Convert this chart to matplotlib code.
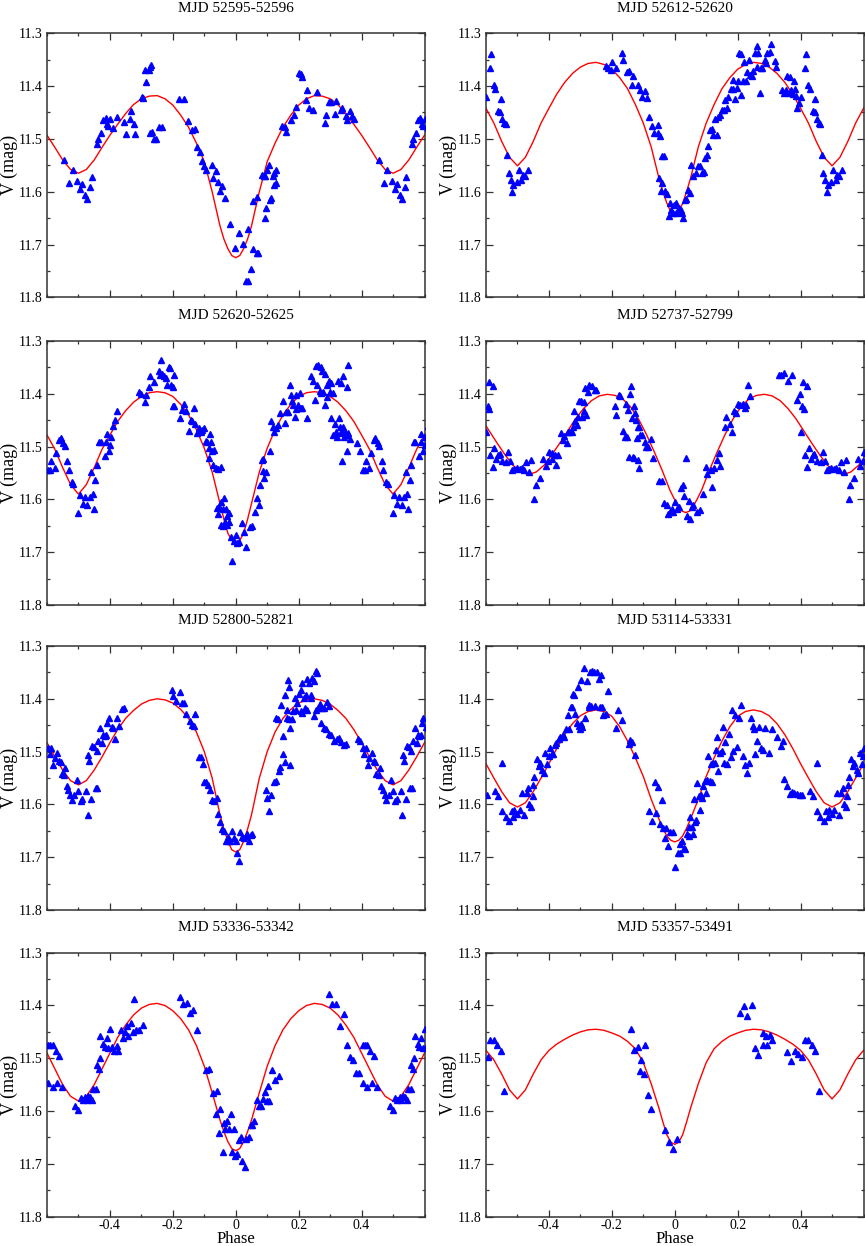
import numpy as np
import matplotlib
matplotlib.use('Agg')
import matplotlib.pyplot as plt
from matplotlib.ticker import MultipleLocator, FixedLocator, FuncFormatter

plt.rcParams['font.family'] = ['Liberation Serif', 'DejaVu Serif']

TITLES = ['MJD 52595-52596', 'MJD 52612-52620', 'MJD 52620-52625', 'MJD 52737-52799',
          'MJD 52800-52821', 'MJD 53114-53331', 'MJD 53336-53342', 'MJD 53357-53491']

# model light curve, half period: distance from primary minimum -> V mag
CURVE_D = [0.0, 0.0125, 0.025, 0.0375, 0.05, 0.075, 0.1, 0.125, 0.15, 0.175, 0.2, 0.225, 0.25,
           0.275, 0.3, 0.325, 0.35, 0.375, 0.4, 0.425, 0.45, 0.475, 0.5]
CURVE_1 = [11.725, 11.721, 11.708, 11.690, 11.665, 11.600, 11.543, 11.508, 11.478, 11.455, 11.436, 11.424, 11.418,
           11.419, 11.424, 11.435, 11.452, 11.472, 11.493, 11.516, 11.540, 11.558, 11.565]
CURVE_2 = [11.643, 11.638, 11.622, 11.600, 11.575, 11.515, 11.470, 11.435, 11.405, 11.384, 11.368, 11.359, 11.355,
           11.357, 11.364, 11.376, 11.393, 11.415, 11.442, 11.470, 11.505, 11.535, 11.551]
CURVE_3 = [11.682, 11.678, 11.664, 11.638, 11.608, 11.548, 11.503, 11.468, 11.440, 11.420, 11.405, 11.398, 11.396,
           11.398, 11.405, 11.416, 11.432, 11.452, 11.478, 11.505, 11.540, 11.572, 11.590]
CURVE_4 = [11.625, 11.622, 11.612, 11.598, 11.583, 11.545, 11.510, 11.477, 11.448, 11.425, 11.410, 11.403, 11.401,
           11.404, 11.413, 11.428, 11.447, 11.470, 11.493, 11.515, 11.535, 11.548, 11.553]
CURVE_5 = [11.690, 11.686, 11.670, 11.647, 11.620, 11.550, 11.500, 11.463, 11.437, 11.420, 11.408, 11.402, 11.400,
           11.403, 11.410, 11.422, 11.437, 11.458, 11.483, 11.510, 11.535, 11.555, 11.563]
CURVE_6 = [11.671, 11.668, 11.660, 11.645, 11.628, 11.590, 11.547, 11.512, 11.480, 11.453, 11.433, 11.424, 11.421,
           11.424, 11.432, 11.447, 11.468, 11.494, 11.523, 11.550, 11.576, 11.597, 11.605]
CURVE_7 = [11.675, 11.671, 11.658, 11.639, 11.617, 11.565, 11.515, 11.476, 11.446, 11.425, 11.410, 11.400, 11.396,
           11.398, 11.405, 11.418, 11.437, 11.460, 11.490, 11.520, 11.550, 11.572, 11.581]
CURVE_8 = [11.663, 11.659, 11.645, 11.621, 11.595, 11.548, 11.508, 11.482, 11.468, 11.458, 11.452, 11.447, 11.445,
           11.446, 11.450, 11.456, 11.464, 11.473, 11.485, 11.503, 11.530, 11.560, 11.577]
# phase of the primary minimum in each panel
CURVE_SHIFT = [0.0, 0.0, 0.0, 0.035, 0.0, 0.0, 0.0, 0.0]

# observations (phase, V), one cycle; drawn again one phase unit later
OBS_1 = [(-0.545, 11.540), (-0.530, 11.583), (-0.518, 11.559), (-0.504, 11.580), (-0.494, 11.594),
         (-0.489, 11.585), (-0.478, 11.606), (-0.473, 11.613), (-0.462, 11.591), (-0.458, 11.572),
         (-0.441, 11.510), (-0.437, 11.500), (-0.427, 11.489), (-0.422, 11.465), (-0.414, 11.461),
         (-0.409, 11.471), (-0.405, 11.475), (-0.399, 11.462), (-0.390, 11.480), (-0.378, 11.458),
         (-0.354, 11.468), (-0.349, 11.491), (-0.337, 11.462), (-0.334, 11.447), (-0.322, 11.472),
         (-0.319, 11.490), (-0.299, 11.420), (-0.295, 11.423), (-0.289, 11.369), (-0.284, 11.393),
         (-0.277, 11.369), (-0.271, 11.363), (-0.268, 11.360), (-0.274, 11.488), (-0.266, 11.486),
         (-0.259, 11.500), (-0.254, 11.500), (-0.243, 11.478), (-0.235, 11.478), (-0.181, 11.425),
         (-0.166, 11.425), (-0.153, 11.466), (-0.140, 11.484), (-0.129, 11.482), (-0.123, 11.515),
         (-0.113, 11.524), (-0.108, 11.542), (-0.100, 11.552), (-0.093, 11.559), (-0.076, 11.549),
         (-0.073, 11.574), (-0.062, 11.561), (-0.057, 11.581), (-0.049, 11.598), (-0.043, 11.590),
         (-0.035, 11.612), (-0.017, 11.661), (-0.003, 11.706), (0.011, 11.679), (0.024, 11.699),
         (0.034, 11.769), (0.039, 11.769), (0.040, 11.671), (0.050, 11.746), (0.054, 11.618),
         (0.055, 11.709), (0.066, 11.717), (0.070, 11.717), (0.067, 11.610), (0.082, 11.569),
         (0.089, 11.571), (0.093, 11.571), (0.092, 11.650), (0.096, 11.631), (0.100, 11.559),
         (0.105, 11.550), (0.108, 11.616), (0.112, 11.612), (0.117, 11.571), (0.121, 11.564),
         (0.123, 11.588), (0.127, 11.559), (0.127, 11.583), (0.147, 11.476), (0.158, 11.478),
         (0.161, 11.486), (0.175, 11.465), (0.186, 11.455), (0.190, 11.439), (0.200, 11.376),
         (0.206, 11.378), (0.211, 11.382), (0.223, 11.426), (0.227, 11.408), (0.232, 11.441),
         (0.245, 11.446), (0.259, 11.411), (0.283, 11.470), (0.287, 11.455), (0.296, 11.430),
         (0.303, 11.430), (0.314, 11.452), (0.318, 11.428), (0.333, 11.445), (0.339, 11.442),
         (0.349, 11.456), (0.353, 11.465), (0.364, 11.447), (0.368, 11.456), (0.377, 11.463)]

OBS_2 = [(-0.599, 11.420), (-0.587, 11.365), (-0.583, 11.340), (-0.575, 11.398), (-0.570, 11.406),
         (-0.561, 11.448), (-0.555, 11.449), (-0.553, 11.425), (-0.548, 11.462), (-0.542, 11.469),
         (-0.537, 11.471), (-0.532, 11.531), (-0.528, 11.565), (-0.521, 11.577), (-0.517, 11.601),
         (-0.513, 11.587), (-0.502, 11.581), (-0.496, 11.558), (-0.489, 11.577), (-0.483, 11.568),
         (-0.477, 11.570), (-0.468, 11.559),
         (-0.220, 11.362), (-0.212, 11.366), (-0.204, 11.370), (-0.200, 11.355), (-0.188, 11.366),
         (-0.167, 11.338), (-0.163, 11.350), (-0.151, 11.374), (-0.146, 11.372), (-0.137, 11.398),
         (-0.132, 11.381), (-0.118, 11.397), (-0.111, 11.407), (-0.103, 11.420), (-0.095, 11.410),
         (-0.087, 11.423), (-0.082, 11.459), (-0.072, 11.476), (-0.067, 11.488), (-0.054, 11.473),
         (-0.052, 11.489), (-0.047, 11.494), (-0.040, 11.533), (-0.035, 11.532), (-0.051, 11.575),
         (-0.040, 11.583), (-0.044, 11.598), (-0.032, 11.598), (-0.025, 11.605), (-0.019, 11.646),
         (-0.015, 11.622), (-0.011, 11.635), (-0.006, 11.640), (-0.002, 11.626), (0.003, 11.622),
         (0.005, 11.641), (0.011, 11.639), (0.015, 11.631), (0.019, 11.634), (0.023, 11.640),
         (0.026, 11.650), (0.032, 11.615), (0.036, 11.614), (0.042, 11.596), (0.048, 11.602),
         (0.051, 11.550), (0.059, 11.571), (0.066, 11.564), (0.074, 11.551), (0.081, 11.551),
         (0.087, 11.564), (0.093, 11.562), (0.097, 11.536), (0.102, 11.530), (0.106, 11.514),
         (0.112, 11.483), (0.117, 11.481), (0.122, 11.492), (0.128, 11.462), (0.133, 11.492),
         (0.138, 11.459), (0.144, 11.454), (0.150, 11.446), (0.155, 11.446), (0.159, 11.426),
         (0.165, 11.442), (0.169, 11.420), (0.178, 11.406), (0.186, 11.406), (0.184, 11.388),
         (0.193, 11.425), (0.197, 11.404), (0.201, 11.391), (0.203, 11.338), (0.210, 11.339),
         (0.212, 11.417), (0.216, 11.391), (0.219, 11.354), (0.225, 11.390), (0.231, 11.374),
         (0.235, 11.350), (0.238, 11.379), (0.244, 11.380), (0.248, 11.372), (0.254, 11.337),
         (0.260, 11.325), (0.263, 11.363), (0.265, 11.338), (0.270, 11.413), (0.273, 11.366),
         (0.278, 11.366), (0.286, 11.350), (0.291, 11.357), (0.294, 11.337), (0.303, 11.335),
         (0.307, 11.320), (0.318, 11.352), (0.323, 11.363), (0.341, 11.408), (0.347, 11.413),
         (0.354, 11.408), (0.358, 11.381), (0.362, 11.413), (0.365, 11.383), (0.371, 11.408),
         (0.376, 11.415), (0.379, 11.390), (0.381, 11.406), (0.386, 11.418), (0.390, 11.442),
         (0.394, 11.432)]

OBS_3 = [(-0.597, 11.545), (-0.590, 11.545), (-0.586, 11.527), (-0.576, 11.540), (-0.570, 11.513),
         (-0.562, 11.487), (-0.556, 11.484), (-0.549, 11.494), (-0.544, 11.498), (-0.535, 11.527),
         (-0.531, 11.545), (-0.522, 11.567), (-0.516, 11.571), (-0.501, 11.625), (-0.496, 11.592),
         (-0.487, 11.608), (-0.480, 11.595), (-0.472, 11.610), (-0.464, 11.595), (-0.459, 11.548),
         (-0.455, 11.590), (-0.451, 11.618), (-0.447, 11.564), (-0.442, 11.534), (-0.434, 11.492),
         (-0.429, 11.492), (-0.417, 11.517), (-0.412, 11.491), (-0.410, 11.477), (-0.404, 11.508),
         (-0.400, 11.497), (-0.397, 11.481), (-0.389, 11.461), (-0.384, 11.449), (-0.378, 11.432),
         (-0.309, 11.397), (-0.302, 11.400), (-0.290, 11.416), (-0.286, 11.403), (-0.277, 11.388),
         (-0.272, 11.367), (-0.259, 11.378), (-0.245, 11.356), (-0.242, 11.364), (-0.238, 11.336),
         (-0.233, 11.362), (-0.227, 11.366), (-0.223, 11.370), (-0.219, 11.383), (-0.213, 11.350),
         (-0.208, 11.351), (-0.206, 11.384), (-0.199, 11.388), (-0.195, 11.365), (-0.201, 11.424),
         (-0.197, 11.424), (-0.176, 11.446), (-0.172, 11.430), (-0.164, 11.419), (-0.157, 11.433),
         (-0.148, 11.470), (-0.142, 11.449), (-0.138, 11.452), (-0.133, 11.427), (-0.128, 11.458),
         (-0.123, 11.475), (-0.117, 11.464), (-0.112, 11.472), (-0.107, 11.468), (-0.101, 11.465),
         (-0.096, 11.489), (-0.091, 11.492), (-0.085, 11.502), (-0.082, 11.477), (-0.078, 11.492),
         (-0.075, 11.508), (-0.069, 11.506), (-0.085, 11.522), (-0.071, 11.535), (-0.064, 11.540),
         (-0.057, 11.543), (-0.048, 11.538), (-0.061, 11.616), (-0.057, 11.627), (-0.052, 11.614),
         (-0.046, 11.605), (-0.042, 11.619), (-0.037, 11.597), (-0.032, 11.619), (-0.029, 11.632),
         (-0.047, 11.649), (-0.040, 11.651), (-0.035, 11.643), (-0.027, 11.649), (-0.023, 11.625),
         (-0.020, 11.643), (-0.016, 11.672), (-0.012, 11.716), (-0.007, 11.678), (0.000, 11.668),
         (0.005, 11.682), (0.011, 11.681), (0.021, 11.644), (0.027, 11.661), (0.032, 11.691),
         (0.046, 11.653), (0.052, 11.651), (0.061, 11.624), (0.067, 11.597), (0.075, 11.611),
         (0.082, 11.526), (0.086, 11.524), (0.078, 11.572), (0.091, 11.560), (0.096, 11.548),
         (0.087, 11.547), (0.110, 11.508), (0.112, 11.452), (0.117, 11.462), (0.123, 11.472),
         (0.129, 11.464), (0.135, 11.460), (0.142, 11.437), (0.149, 11.413), (0.155, 11.456),
         (0.161, 11.435), (0.167, 11.435), (0.171, 11.384), (0.176, 11.402), (0.179, 11.414),
         (0.182, 11.421), (0.187, 11.443), (0.191, 11.403), (0.193, 11.428), (0.197, 11.421),
         (0.203, 11.398), (0.206, 11.427), (0.210, 11.427), (0.225, 11.446), (0.240, 11.367),
         (0.246, 11.376), (0.251, 11.411), (0.256, 11.348), (0.259, 11.383), (0.263, 11.346),
         (0.270, 11.350), (0.267, 11.394), (0.272, 11.398), (0.275, 11.357), (0.278, 11.397),
         (0.283, 11.363), (0.285, 11.422), (0.289, 11.407), (0.291, 11.383), (0.295, 11.375),
         (0.299, 11.397), (0.304, 11.379), (0.309, 11.398), (0.304, 11.445), (0.309, 11.478),
         (0.314, 11.458), (0.320, 11.472), (0.323, 11.481), (0.327, 11.446), (0.330, 11.462),
         (0.334, 11.475), (0.338, 11.468), (0.342, 11.462), (0.344, 11.481), (0.325, 11.375),
         (0.334, 11.379), (0.341, 11.367), (0.346, 11.472), (0.352, 11.478), (0.357, 11.475),
         (0.362, 11.486), (0.357, 11.346), (0.353, 11.388), (0.338, 11.527), (0.353, 11.508),
         (0.384, 11.494), (0.394, 11.508)]

OBS_4 = [(-0.600, 11.473), (-0.595, 11.424), (-0.589, 11.428), (-0.591, 11.378), (-0.579, 11.386),
         (-0.586, 11.516), (-0.579, 11.538), (-0.573, 11.502), (-0.568, 11.524), (-0.562, 11.516),
         (-0.556, 11.514), (-0.549, 11.527), (-0.536, 11.529), (-0.530, 11.510), (-0.523, 11.527),
         (-0.517, 11.545), (-0.510, 11.543), (-0.502, 11.540), (-0.493, 11.543), (-0.487, 11.541),
         (-0.479, 11.545), (-0.472, 11.529), (-0.463, 11.549), (-0.456, 11.526), (-0.447, 11.599),
         (-0.442, 11.573), (-0.429, 11.560), (-0.419, 11.524), (-0.410, 11.536), (-0.403, 11.527),
         (-0.399, 11.510), (-0.391, 11.513), (-0.389, 11.524), (-0.380, 11.515), (-0.376, 11.534),
         (-0.372, 11.516), (-0.361, 11.475), (-0.354, 11.487), (-0.351, 11.479), (-0.344, 11.494),
         (-0.340, 11.472), (-0.335, 11.473), (-0.327, 11.472), (-0.323, 11.462), (-0.319, 11.432),
         (-0.316, 11.451), (-0.312, 11.460), (-0.308, 11.443), (-0.303, 11.414), (-0.298, 11.414),
         (-0.294, 11.443), (-0.289, 11.416), (-0.287, 11.433), (-0.282, 11.440), (-0.284, 11.389),
         (-0.277, 11.397), (-0.271, 11.384), (-0.263, 11.386), (-0.255, 11.392), (-0.250, 11.392),
         (-0.191, 11.424), (-0.188, 11.440), (-0.178, 11.402), (-0.173, 11.404), (-0.165, 11.470),
         (-0.159, 11.481), (-0.156, 11.419), (-0.151, 11.481), (-0.148, 11.430), (-0.144, 11.519),
         (-0.141, 11.400), (-0.138, 11.386), (-0.135, 11.445), (-0.133, 11.519), (-0.129, 11.522),
         (-0.129, 11.423), (-0.126, 11.436), (-0.122, 11.450), (-0.118, 11.526), (-0.115, 11.541),
         (-0.118, 11.463), (-0.114, 11.462), (-0.120, 11.484), (-0.109, 11.478), (-0.103, 11.478),
         (-0.096, 11.491), (-0.090, 11.500), (-0.085, 11.500), (-0.074, 11.486), (-0.069, 11.521),
         (-0.050, 11.565), (-0.041, 11.565), (-0.035, 11.606), (-0.026, 11.611), (-0.021, 11.627),
         (-0.015, 11.624), (-0.010, 11.618), (-0.005, 11.624), (0.001, 11.605), (0.006, 11.619),
         (0.012, 11.615), (0.019, 11.578), (0.025, 11.573), (0.029, 11.593), (0.035, 11.521),
         (0.040, 11.632), (0.046, 11.603), (0.049, 11.637), (0.055, 11.615), (0.059, 11.610),
         (0.072, 11.623), (0.081, 11.621), (0.089, 11.589), (0.100, 11.538), (0.104, 11.551),
         (0.115, 11.545), (0.118, 11.576), (0.125, 11.541), (0.134, 11.526), (0.140, 11.513),
         (0.145, 11.536), (0.159, 11.462), (0.164, 11.443), (0.177, 11.457), (0.181, 11.473),
         (0.187, 11.433), (0.194, 11.436), (0.202, 11.419), (0.208, 11.421), (0.216, 11.419),
         (0.224, 11.426), (0.228, 11.421), (0.234, 11.383), (0.238, 11.405), (0.331, 11.364),
         (0.339, 11.364), (0.347, 11.360), (0.360, 11.375), (0.374, 11.365), (0.388, 11.411),
         (0.398, 11.400)]

OBS_5 = [(-0.596, 11.493), (-0.591, 11.504), (-0.586, 11.494), (-0.580, 11.525), (-0.575, 11.512),
         (-0.567, 11.503), (-0.562, 11.517), (-0.557, 11.520), (-0.553, 11.542), (-0.546, 11.544),
         (-0.543, 11.532), (-0.538, 11.566), (-0.532, 11.572), (-0.527, 11.582), (-0.522, 11.591),
         (-0.514, 11.583), (-0.506, 11.553), (-0.501, 11.575), (-0.493, 11.593), (-0.488, 11.589),
         (-0.476, 11.575), (-0.471, 11.621), (-0.469, 11.507), (-0.465, 11.518), (-0.460, 11.589),
         (-0.456, 11.489), (-0.450, 11.492), (-0.445, 11.568), (-0.440, 11.568), (-0.442, 11.498),
         (-0.437, 11.480), (-0.431, 11.455), (-0.425, 11.484), (-0.421, 11.468), (-0.417, 11.471),
         (-0.412, 11.468), (-0.408, 11.446), (-0.404, 11.436), (-0.394, 11.454), (-0.389, 11.455),
         (-0.384, 11.477), (-0.376, 11.437), (-0.370, 11.452), (-0.362, 11.420), (-0.355, 11.417),
         (-0.203, 11.384), (-0.198, 11.394), (-0.189, 11.404), (-0.176, 11.388), (-0.171, 11.408),
         (-0.164, 11.408), (-0.157, 11.428), (-0.147, 11.442), (-0.140, 11.449), (-0.129, 11.428),
         (-0.132, 11.451), (-0.117, 11.511), (-0.111, 11.511), (-0.104, 11.523), (-0.100, 11.558),
         (-0.094, 11.558), (-0.087, 11.563), (-0.081, 11.572), (-0.074, 11.591), (-0.068, 11.593),
         (-0.060, 11.588), (-0.055, 11.618), (-0.049, 11.634), (-0.045, 11.646), (-0.038, 11.651),
         (-0.032, 11.670), (-0.026, 11.661), (-0.021, 11.670), (-0.017, 11.669), (-0.013, 11.650),
         (-0.006, 11.663), (0.000, 11.670), (0.004, 11.692), (0.010, 11.707), (0.015, 11.653),
         (0.020, 11.661), (0.026, 11.664), (0.031, 11.659), (0.036, 11.656), (0.041, 11.670),
         (0.047, 11.658), (0.052, 11.657), (0.096, 11.572), (0.100, 11.588), (0.106, 11.613),
         (0.113, 11.583), (0.121, 11.558), (0.128, 11.556), (0.128, 11.436), (0.134, 11.439),
         (0.137, 11.537), (0.140, 11.530), (0.145, 11.412), (0.151, 11.471), (0.149, 11.504),
         (0.155, 11.520), (0.158, 11.392), (0.164, 11.422), (0.166, 11.365), (0.170, 11.378),
         (0.164, 11.437), (0.170, 11.439), (0.172, 11.526), (0.174, 11.455), (0.179, 11.439),
         (0.183, 11.423), (0.187, 11.399), (0.191, 11.422), (0.196, 11.408), (0.201, 11.391),
         (0.206, 11.384), (0.211, 11.370), (0.217, 11.399), (0.222, 11.392), (0.227, 11.363),
         (0.233, 11.370), (0.238, 11.398), (0.243, 11.360), (0.249, 11.366), (0.254, 11.347),
         (0.259, 11.351), (0.206, 11.423), (0.211, 11.427), (0.219, 11.417), (0.227, 11.422),
         (0.238, 11.392), (0.249, 11.433), (0.254, 11.422), (0.261, 11.417), (0.268, 11.409),
         (0.274, 11.417), (0.281, 11.418), (0.289, 11.406), (0.296, 11.414), (0.272, 11.446),
         (0.281, 11.456), (0.287, 11.458), (0.296, 11.466), (0.302, 11.468), (0.312, 11.479),
         (0.321, 11.477), (0.328, 11.474), (0.334, 11.482), (0.344, 11.488), (0.350, 11.485),
         (0.389, 11.477), (0.395, 11.480)]

OBS_6 = [(-0.596, 11.582), (-0.571, 11.575), (-0.561, 11.584), (-0.548, 11.612), (-0.548, 11.521),
         (-0.537, 11.624), (-0.527, 11.632), (-0.518, 11.613), (-0.514, 11.624), (-0.511, 11.610),
         (-0.500, 11.619), (-0.493, 11.610), (-0.484, 11.578), (-0.479, 11.620), (-0.471, 11.578),
         (-0.466, 11.568), (-0.463, 11.600), (-0.457, 11.605), (-0.452, 11.584), (-0.447, 11.549),
         (-0.450, 11.563), (-0.439, 11.514), (-0.433, 11.527), (-0.429, 11.521), (-0.422, 11.535),
         (-0.417, 11.540), (-0.412, 11.502), (-0.406, 11.524), (-0.401, 11.508), (-0.397, 11.494),
         (-0.390, 11.504), (-0.386, 11.504), (-0.382, 11.487), (-0.376, 11.483), (-0.369, 11.476),
         (-0.365, 11.473), (-0.356, 11.468), (-0.352, 11.473), (-0.346, 11.457), (-0.340, 11.430),
         (-0.335, 11.457), (-0.330, 11.416), (-0.324, 11.391), (-0.316, 11.429), (-0.312, 11.445),
         (-0.305, 11.451), (-0.301, 11.457), (-0.298, 11.448), (-0.295, 11.454), (-0.290, 11.341),
         (-0.284, 11.436), (-0.280, 11.367), (-0.273, 11.415), (-0.271, 11.411), (-0.267, 11.413),
         (-0.299, 11.364), (-0.309, 11.378), (-0.319, 11.392), (-0.327, 11.416), (-0.269, 11.349),
         (-0.263, 11.348), (-0.256, 11.350), (-0.248, 11.350), (-0.241, 11.362), (-0.234, 11.355),
         (-0.227, 11.430), (-0.213, 11.386), (-0.255, 11.413), (-0.239, 11.416), (-0.231, 11.416),
         (-0.220, 11.429), (-0.188, 11.455), (-0.180, 11.422), (-0.167, 11.440), (-0.146, 11.485),
         (-0.141, 11.478), (-0.135, 11.481), (-0.126, 11.506), (-0.082, 11.613), (-0.071, 11.632),
         (-0.063, 11.557), (-0.059, 11.616), (-0.053, 11.567), (-0.048, 11.638), (-0.041, 11.591),
         (-0.037, 11.645), (-0.032, 11.664), (-0.027, 11.645), (-0.021, 11.679), (-0.016, 11.652),
         (-0.007, 11.652), (0.000, 11.719), (0.011, 11.692), (0.016, 11.692), (0.018, 11.675),
         (0.024, 11.670), (0.029, 11.683), (0.033, 11.684), (0.039, 11.657), (0.044, 11.643),
         (0.046, 11.660), (0.050, 11.624), (0.054, 11.643), (0.059, 11.656), (0.061, 11.589),
         (0.065, 11.633), (0.069, 11.629), (0.071, 11.559), (0.076, 11.584), (0.080, 11.611),
         (0.083, 11.582), (0.088, 11.587), (0.090, 11.565), (0.095, 11.556), (0.099, 11.578),
         (0.103, 11.553), (0.107, 11.508), (0.112, 11.556), (0.114, 11.523), (0.118, 11.557),
         (0.122, 11.521), (0.128, 11.521), (0.131, 11.497), (0.135, 11.473), (0.138, 11.537),
         (0.144, 11.502), (0.149, 11.499), (0.152, 11.454), (0.156, 11.521), (0.161, 11.481),
         (0.165, 11.523), (0.171, 11.466), (0.178, 11.510), (0.182, 11.422), (0.186, 11.499),
         (0.191, 11.430), (0.197, 11.492), (0.203, 11.436), (0.210, 11.411), (0.218, 11.508),
         (0.224, 11.525), (0.231, 11.540), (0.237, 11.521), (0.241, 11.436), (0.248, 11.451),
         (0.252, 11.457), (0.256, 11.505), (0.263, 11.480), (0.269, 11.453), (0.273, 11.494),
         (0.280, 11.497), (0.288, 11.455), (0.301, 11.502), (0.310, 11.457), (0.324, 11.473),
         (0.337, 11.489), (0.344, 11.480), (0.346, 11.551), (0.356, 11.565), (0.365, 11.580),
         (0.372, 11.577), (0.380, 11.578), (0.388, 11.580), (0.399, 11.582)]

OBS_7 = [(-0.596, 11.474), (-0.589, 11.474), (-0.582, 11.475), (-0.572, 11.487), (-0.561, 11.495),
         (-0.596, 11.547), (-0.582, 11.555), (-0.567, 11.547), (-0.551, 11.555), (-0.511, 11.591),
         (-0.501, 11.597), (-0.493, 11.575), (-0.487, 11.579), (-0.479, 11.573), (-0.474, 11.579),
         (-0.469, 11.571), (-0.463, 11.574), (-0.457, 11.579), (-0.453, 11.558), (-0.444, 11.558),
         (-0.442, 11.512), (-0.436, 11.520), (-0.432, 11.499), (-0.430, 11.457), (-0.421, 11.473),
         (-0.416, 11.479), (-0.410, 11.461), (-0.405, 11.480), (-0.400, 11.444), (-0.394, 11.479),
         (-0.386, 11.487), (-0.379, 11.476), (-0.373, 11.487), (-0.366, 11.447), (-0.359, 11.461),
         (-0.352, 11.451), (-0.347, 11.438), (-0.341, 11.457), (-0.334, 11.434), (-0.328, 11.451),
         (-0.323, 11.387), (-0.317, 11.447), (-0.306, 11.447), (-0.296, 11.436), (-0.177, 11.383),
         (-0.169, 11.398), (-0.156, 11.396), (-0.145, 11.415), (-0.137, 11.409), (-0.122, 11.447),
         (-0.095, 11.522), (-0.086, 11.520), (-0.071, 11.566), (-0.060, 11.562), (-0.063, 11.606),
         (-0.050, 11.596), (-0.054, 11.641), (-0.041, 11.678), (-0.037, 11.622), (-0.033, 11.634),
         (-0.027, 11.618), (-0.022, 11.634), (-0.016, 11.606), (-0.011, 11.678), (-0.005, 11.634),
         (-0.002, 11.685), (0.003, 11.682), (0.010, 11.655), (0.016, 11.650), (0.021, 11.694),
         (0.029, 11.706), (0.033, 11.653), (0.041, 11.650), (0.048, 11.626), (0.052, 11.626),
         (0.058, 11.618), (0.067, 11.579), (0.074, 11.591), (0.080, 11.591), (0.088, 11.577),
         (0.093, 11.564), (0.099, 11.580), (0.104, 11.552), (0.107, 11.580), (0.115, 11.522),
         (0.126, 11.542), (0.139, 11.533), (0.298, 11.379), (0.306, 11.397), (0.319, 11.398),
         (0.330, 11.438), (0.343, 11.417), (0.353, 11.474), (0.364, 11.498), (0.374, 11.504),
         (0.383, 11.527), (0.393, 11.527)]

OBS_8 = [(-0.595, 11.498), (-0.587, 11.465), (-0.576, 11.465), (-0.564, 11.474), (-0.553, 11.487),
         (-0.542, 11.561), (-0.140, 11.444), (-0.129, 11.484), (-0.117, 11.479), (-0.108, 11.503),
         (-0.110, 11.525), (-0.097, 11.530), (-0.095, 11.475), (-0.085, 11.570), (-0.074, 11.596),
         (-0.030, 11.636), (-0.018, 11.659), (-0.005, 11.671), (0.007, 11.652), (0.208, 11.414),
         (0.220, 11.401), (0.231, 11.419), (0.244, 11.400), (0.254, 11.481), (0.265, 11.494),
         (0.279, 11.453), (0.282, 11.475), (0.289, 11.458), (0.292, 11.474), (0.302, 11.455),
         (0.310, 11.466), (0.358, 11.489), (0.371, 11.506), (0.383, 11.487), (0.392, 11.492)]

CURVES = [CURVE_1, CURVE_2, CURVE_3, CURVE_4, CURVE_5, CURVE_6, CURVE_7, CURVE_8]
OBS = [OBS_1, OBS_2, OBS_3, OBS_4, OBS_5, OBS_6, OBS_7, OBS_8]

W, H = 865.0, 1246.0
col_left = [47.0, 486.0]
col_width = 377.5
row_top = [33.3, 341.0, 646.0, 952.7]
row_height = 264.0

fig = plt.figure(figsize=(W / 100, H / 100), dpi=100)


def xfmt(v, pos):
    if abs(v) < 1e-9:
        return '0'
    return '%.1f' % v


for i in range(8):
    r, c = i // 2, i % 2
    ax = fig.add_axes([col_left[c] / W, 1 - (row_top[r] + row_height) / H,
                       col_width / W, row_height / H])

    # model curve: mirror half period, shift to minimum, repeat
    d = np.array(CURVE_D)
    h = np.array(CURVES[i])
    ph = np.concatenate([-d[::-1], d[1:]]) + CURVE_SHIFT[i]
    mg = np.concatenate([h[::-1], h[1:]])
    cx = np.concatenate([ph - 1, ph[1:], ph[1:] + 1])
    cy = np.concatenate([mg, mg[1:], mg[1:]])
    ax.plot(cx, cy, color='#ff0000', lw=1.0, zorder=2)

    obs = np.array(OBS[i])
    px = np.concatenate([obs[:, 0], obs[:, 0] + 1])
    py = np.concatenate([obs[:, 1], obs[:, 1]])
    ax.plot(px, py, ls='none', marker='^', ms=4.6, color='#0000ff', mec='#0000ff', zorder=3)

    ax.set_xlim(-0.6, 0.6)
    ax.set_ylim(11.8, 11.3)
    ax.xaxis.set_major_locator(FixedLocator([-0.4, -0.2, 0.0, 0.2, 0.4]))
    ax.xaxis.set_minor_locator(MultipleLocator(0.1))
    ax.xaxis.set_major_formatter(FuncFormatter(xfmt))
    ax.yaxis.set_major_locator(MultipleLocator(0.1))
    ax.yaxis.set_minor_locator(MultipleLocator(0.05))
    ax.yaxis.set_major_formatter(FuncFormatter(lambda v, p: '%.1f' % v))
    ax.tick_params(which='both', direction='in', top=True, right=True,
                   labelsize=10, width=0.9, color='#333333')
    ax.tick_params(which='major', length=5)
    ax.tick_params(which='minor', length=2.5)
    ax.tick_params(axis='x', pad=2)
    ax.tick_params(axis='y', pad=3)
    if r < 3:
        ax.tick_params(axis='x', labelbottom=False)
    else:
        ax.set_xlabel('Phase', fontsize=12)
        ax.xaxis.set_label_coords(0.5, -0.0555)
    for s in ax.spines.values():
        s.set_linewidth(1.1)
        s.set_color('#333333')

    ax.set_ylabel('V (mag)', fontsize=13)
    ax.yaxis.set_label_coords(-0.078, 0.5)
    ax.set_title(TITLES[i], fontsize=11, pad=15.5)

fig.savefig('out.png', dpi=100)
